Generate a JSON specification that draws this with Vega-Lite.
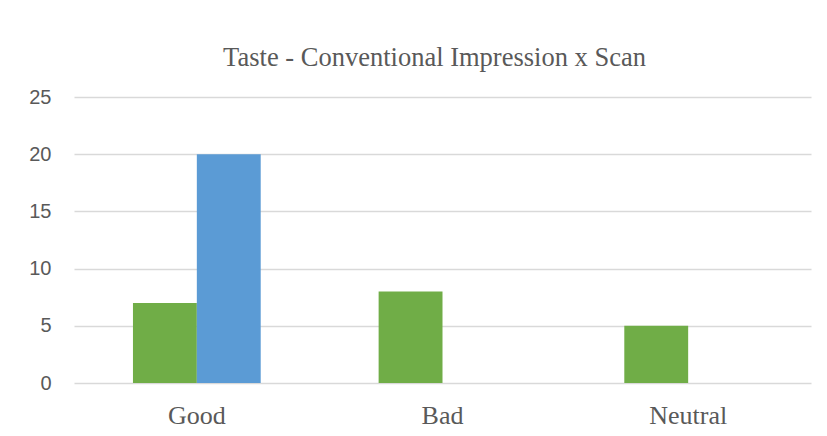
{
  "$schema": "https://vega.github.io/schema/vega-lite/v6.json",
  "width": 737,
  "height": 286,
  "autosize": "none",
  "padding": {"left": 74, "top": 97, "right": 16, "bottom": 53},
  "background": "white",
  "title": {
    "text": "Taste - Conventional Impression x Scan",
    "font": "Liberation Serif",
    "fontSize": 26.5,
    "fontWeight": "normal",
    "color": "#595959",
    "anchor": "middle",
    "frame": "group",
    "baseline": "alphabetic",
    "offset": 31,
    "dy": 36,
    "dx": -8
  },
  "data": {
    "values": [
      {"impression": "Good", "series": "Conventional", "count": 7},
      {"impression": "Good", "series": "Scan", "count": 20},
      {"impression": "Bad", "series": "Conventional", "count": 8},
      {"impression": "Bad", "series": "Scan", "count": 0},
      {"impression": "Neutral", "series": "Conventional", "count": 5},
      {"impression": "Neutral", "series": "Scan", "count": 0}
    ]
  },
  "mark": {"type": "bar"},
  "encoding": {
    "x": {
      "field": "impression",
      "type": "nominal",
      "sort": ["Good", "Bad", "Neutral"],
      "scale": {"paddingInner": 0.48, "paddingOuter": 0.24},
      "axis": {
        "title": null,
        "labelAngle": 0,
        "domain": false,
        "ticks": false,
        "tickSize": 0,
        "labelFont": "Liberation Serif",
        "labelFontSize": 26,
        "labelColor": "#595959",
        "labelBaseline": "alphabetic",
        "labelPadding": 40
      }
    },
    "xOffset": {
      "field": "series",
      "type": "nominal",
      "sort": ["Conventional", "Scan"],
      "scale": {"paddingInner": 0, "paddingOuter": 0}
    },
    "y": {
      "field": "count",
      "type": "quantitative",
      "scale": {"domain": [0, 25], "nice": false},
      "axis": {
        "title": null,
        "values": [0, 5, 10, 15, 20, 25],
        "domain": false,
        "ticks": false,
        "tickSize": 0,
        "grid": true,
        "gridColor": "#d9d9d9",
        "gridWidth": 1.3,
        "labelFont": "Liberation Sans",
        "labelFontSize": 20,
        "labelColor": "#595959",
        "labelPadding": 23
      }
    },
    "color": {
      "field": "series",
      "type": "nominal",
      "scale": {"domain": ["Conventional", "Scan"], "range": ["#70AD47", "#5B9BD5"]},
      "legend": null
    }
  },
  "config": {"view": {"stroke": null}}
}
